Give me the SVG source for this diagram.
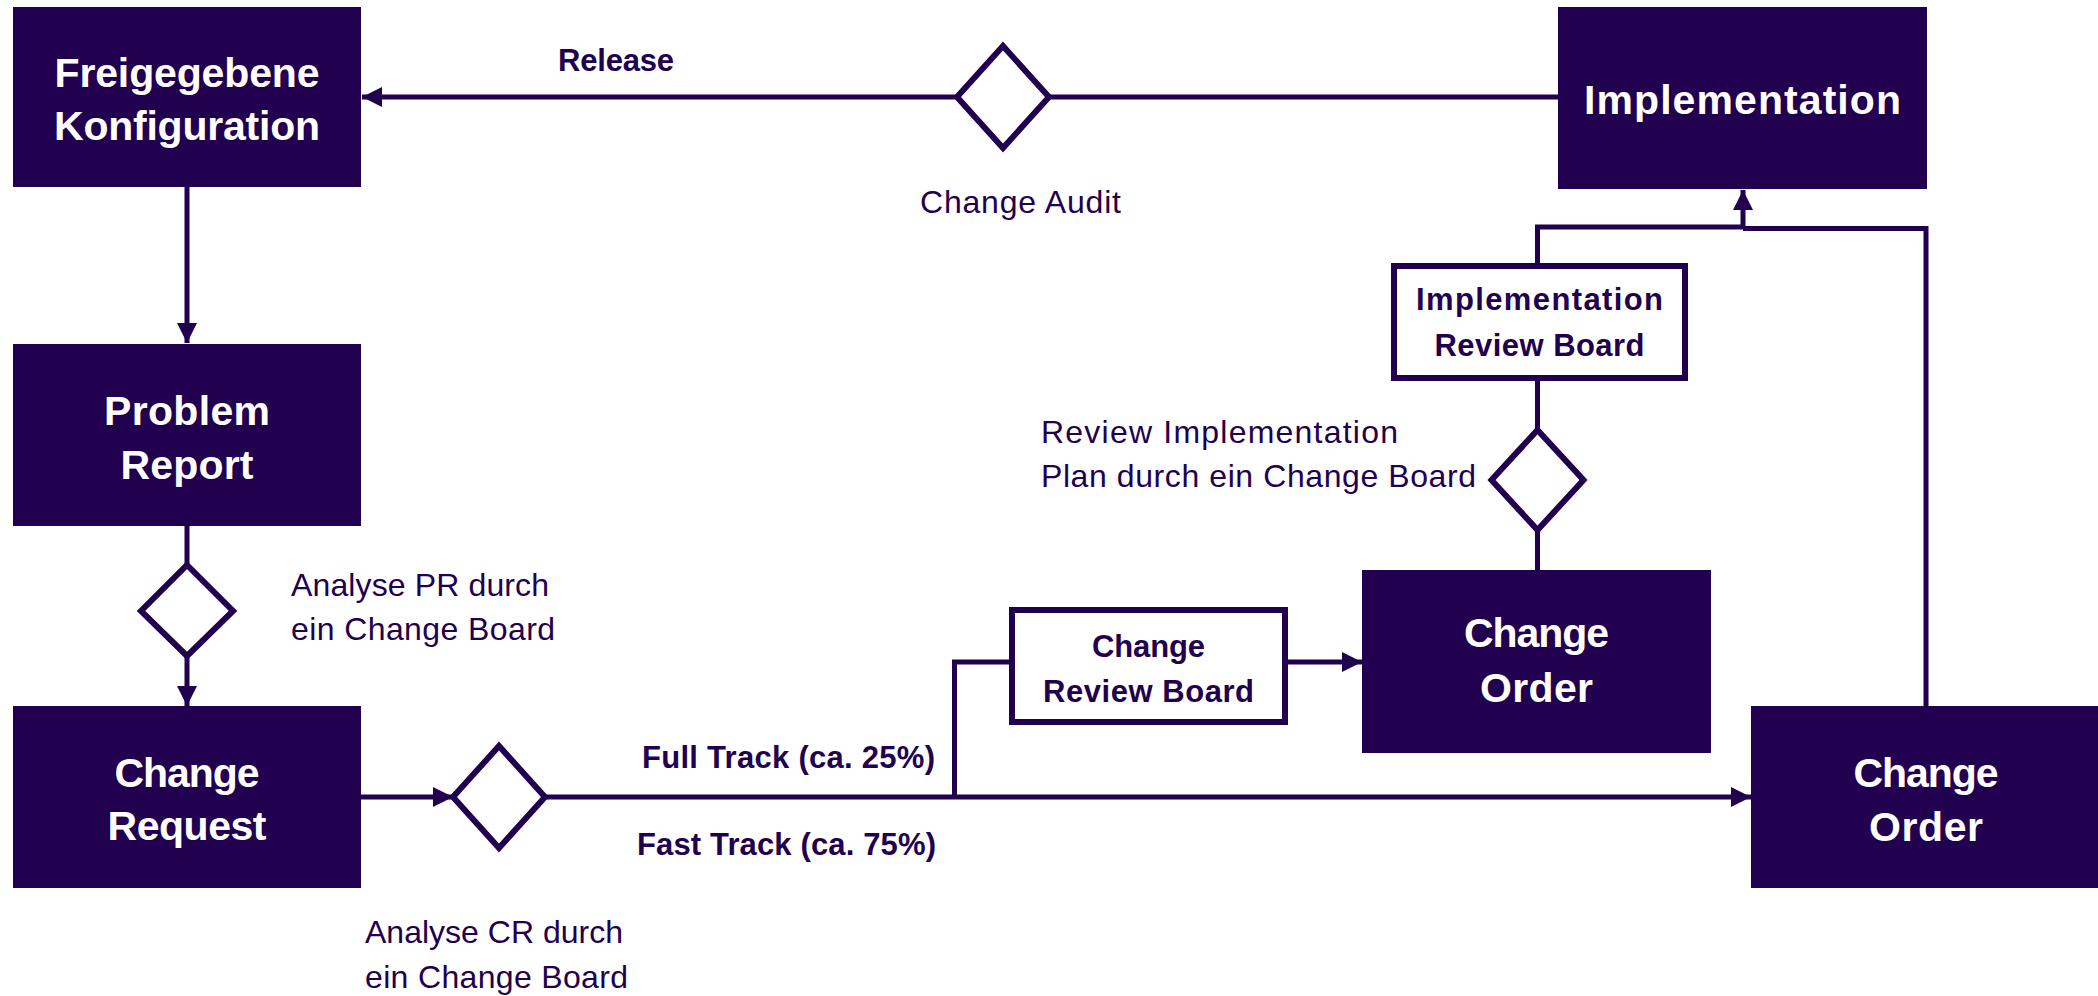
<svg xmlns="http://www.w3.org/2000/svg" width="2098" height="996" viewBox="0 0 2098 996">
<defs>
<style>
.box{fill:#21004f;}
.wbox{fill:#ffffff;stroke:#21004f;stroke-width:6;}
.dia{fill:#ffffff;stroke:#21004f;stroke-width:6;stroke-linejoin:miter;}
.ln{fill:none;stroke:#21004f;stroke-width:5;}
.bt{fill:#ffffff;font-family:"Liberation Sans",Arial,sans-serif;font-weight:bold;font-size:41px;text-anchor:middle;}
.st{fill:#21004f;font-family:"Liberation Sans",Arial,sans-serif;font-weight:bold;font-size:31px;text-anchor:middle;}
.lb{fill:#21004f;font-family:"Liberation Sans",Arial,sans-serif;font-weight:bold;font-size:31px;}
.lr{fill:#21004f;font-family:"Liberation Sans",Arial,sans-serif;font-size:32px;}
</style>
<marker id="ah" markerUnits="userSpaceOnUse" markerWidth="20" markerHeight="20" refX="18" refY="9" orient="auto" viewBox="0 0 18 18">
<path d="M0,0 L18,9 L0,18 z" fill="#21004f"/>
</marker>
</defs>
<rect width="2098" height="996" fill="#ffffff"/>

<g id="connectors">
<line class="ln" x1="1558" y1="97" x2="362" y2="97" marker-end="url(#ah)"/>
<line class="ln" x1="187" y1="187" x2="187" y2="343" marker-end="url(#ah)"/>
<line class="ln" x1="187" y1="526" x2="187" y2="566"/>
<line class="ln" x1="187" y1="656" x2="187" y2="706" marker-end="url(#ah)"/>
<line class="ln" x1="361" y1="797" x2="453" y2="797" marker-end="url(#ah)"/>
<line class="ln" x1="545" y1="797" x2="1751" y2="797" marker-end="url(#ah)"/>
<polyline class="ln" points="954.5,797 954.5,662 1012,662"/>
<line class="ln" x1="1285" y1="662" x2="1362" y2="662" marker-end="url(#ah)"/>
<line class="ln" x1="1537.5" y1="570" x2="1537.5" y2="530"/>
<line class="ln" x1="1537.5" y1="430" x2="1537.5" y2="378"/>
<polyline class="ln" points="1537.5,266 1537.5,227 1743,227"/>
<line class="ln" x1="1743" y1="227" x2="1743" y2="190" marker-end="url(#ah)"/>
<polyline class="ln" points="1926,706 1926,228.5 1743,228.5"/>
</g>

<g id="diamond-audit"><polygon class="dia" points="1003,46 1049,97 1003,148 957,97"/></g>
<g id="diamond-pr"><polygon class="dia" points="187,565 233,611 187,656 141,611"/></g>
<g id="diamond-cr"><polygon class="dia" points="499,746 545,797 499,848 453,797"/></g>
<g id="diamond-irb"><polygon class="dia" points="1537.5,430 1583.5,480 1537.5,530 1491.5,480"/></g>

<g id="freigegebene">
<rect class="box" x="13" y="7" width="348" height="180"/>
<text class="bt" x="187" y="87" textLength="265">Freigegebene</text>
<text class="bt" x="187" y="140" textLength="266">Konfiguration</text>
</g>
<g id="implementation">
<rect class="box" x="1558" y="7" width="369" height="182"/>
<text class="bt" x="1742.5" y="114" textLength="317">Implementation</text>
</g>
<g id="problem-report">
<rect class="box" x="13" y="344" width="348" height="182"/>
<text class="bt" x="187" y="425" textLength="166">Problem</text>
<text class="bt" x="187" y="479" textLength="133">Report</text>
</g>
<g id="change-request">
<rect class="box" x="13" y="706" width="348" height="182"/>
<text class="bt" x="187" y="787" textLength="145">Change</text>
<text class="bt" x="187" y="840" textLength="159">Request</text>
</g>
<g id="change-order-1">
<rect class="box" x="1362" y="570" width="349" height="183"/>
<text class="bt" x="1536.5" y="647" textLength="145">Change</text>
<text class="bt" x="1536.5" y="702" textLength="113">Order</text>
</g>
<g id="change-order-2">
<rect class="box" x="1751" y="706" width="347" height="182"/>
<text class="bt" x="1926" y="787" textLength="145">Change</text>
<text class="bt" x="1926" y="841" textLength="114">Order</text>
</g>
<g id="change-review-board">
<rect class="wbox" x="1012" y="610" width="273" height="112"/>
<text class="st" x="1148.5" y="657" textLength="113">Change</text>
<text class="st" x="1148.5" y="702" textLength="211">Review Board</text>
</g>
<g id="implementation-review-board">
<rect class="wbox" x="1394" y="266" width="291" height="112"/>
<text class="st" x="1539.5" y="310" textLength="247">Implementation</text>
<text class="st" x="1539.5" y="356" textLength="210">Review Board</text>
</g>

<g id="labels">
<text class="lb" x="558" y="71" textLength="116">Release</text>
<text class="lr" x="920" y="213" textLength="201">Change Audit</text>
<text class="lr" x="291" y="596" textLength="258">Analyse PR durch</text>
<text class="lr" x="291" y="640" textLength="264">ein Change Board</text>
<text class="lb" x="642" y="768" textLength="293">Full Track (ca. 25%)</text>
<text class="lb" x="637" y="855" textLength="299">Fast Track (ca. 75%)</text>
<text class="lr" x="365" y="943" textLength="258">Analyse CR durch</text>
<text class="lr" x="365" y="988" textLength="263">ein Change Board</text>
<text class="lr" x="1041" y="443" textLength="357">Review Implementation</text>
<text class="lr" x="1041" y="487" textLength="435">Plan durch ein Change Board</text>
</g>
</svg>
